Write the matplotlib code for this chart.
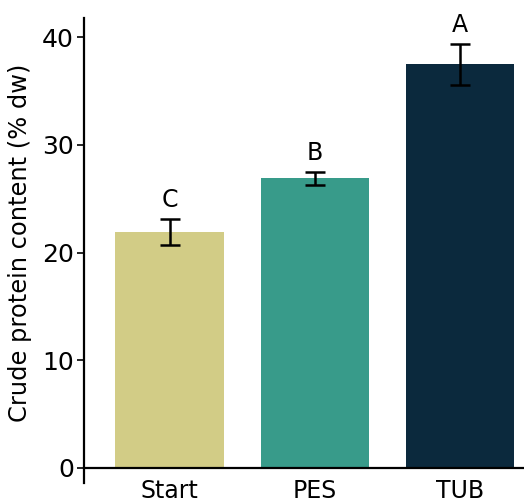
import matplotlib
matplotlib.use("Agg")
import matplotlib.pyplot as plt

categories = ["Start", "PES", "TUB"]
values = [21.9, 26.9, 37.5]
errors = [1.2, 0.6, 1.9]
letters = ["C", "B", "A"]
colors = ["#D2CC86", "#389B8A", "#0B293D"]

fig = plt.figure(figsize=(5.24, 4.99), dpi=100)
ax = fig.add_axes([0.160, 0.032, 0.840, 0.932])
x = list(range(len(categories)))
ax.bar(x, values, width=0.75, color=colors, zorder=2)
ax.errorbar(x, values, yerr=errors, fmt="none", ecolor="black",
            elinewidth=1.8, capsize=7.2, capthick=1.8, zorder=3)
for xi, v, e, l in zip(x, values, errors, letters):
    ax.text(xi, v + e + 1.1, l, ha="center", va="baseline", fontsize=17)

ax.set_xlim(-0.593, 2.441)
ax.set_ylim(-1.4, 41.8)
ax.set_yticks([0, 10, 20, 30, 40])
ax.set_xticks(x)
ax.set_xticklabels(categories)
ax.tick_params(axis="x", length=0, labelsize=17, pad=8)
ax.tick_params(axis="y", length=5, width=1.2, labelsize=18, pad=2)
ax.set_ylabel("Crude protein content (% dw)", fontsize=17.4)
ax.yaxis.set_label_coords(-0.117, 0.516)
ax.spines["top"].set_visible(False)
ax.spines["right"].set_visible(False)
ax.spines["bottom"].set_position(("data", 0))
ax.spines["bottom"].set_linewidth(1.6)
ax.spines["left"].set_linewidth(1.6)
fig.savefig("out.png", dpi=100)
